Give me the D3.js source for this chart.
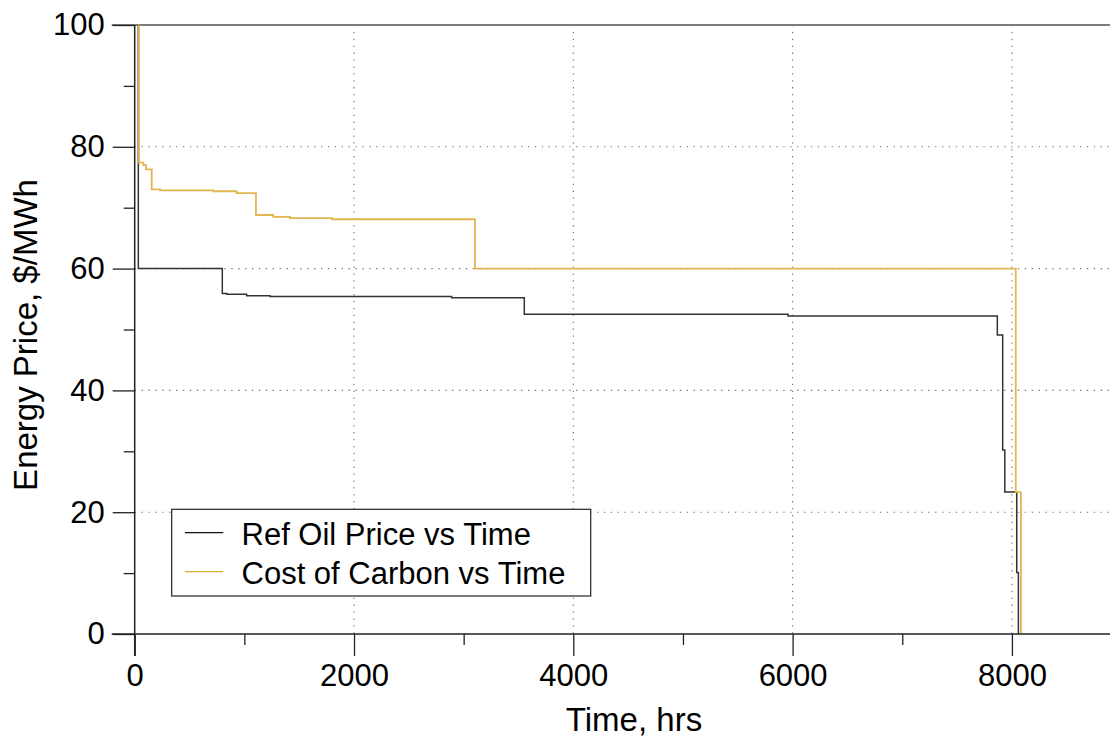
<!DOCTYPE html>
<html>
<head>
<meta charset="utf-8">
<script src="https://cdn.jsdelivr.net/npm/d3@7"></script>
<style>
  html, body { margin: 0; padding: 0; background: #fff; }
  svg { display: block; font-family: "Liberation Sans", Arial, Helvetica, sans-serif; }
</style>
</head>
<body>
<svg id="chart" width="1110" height="738"></svg>
<script>
// Price duration data: each point is [hour where the level starts, $/MWh level]
const oilHours  = [0, 33, 799, 839, 1021, 1234, 2891, 3553, 5958, 7867, 7916, 7935, 8044, 8059];
const oilPrice  = [130, 60.0, 55.9, 55.8, 55.55, 55.4, 55.2, 52.5, 52.2, 49.1, 30.2, 23.3, 10.1, 0];

const carbonHours = [0, 39, 79, 103, 155, 231, 717, 930, 1106, 1264, 1416, 1800, 3103, 8035, 8082];
const carbonPrice = [130, 77.4, 77.0, 76.3, 73.0, 72.85, 72.7, 72.4, 68.8, 68.5, 68.3, 68.1, 60.0, 23.3, 0];

const seriesNames = ["Ref Oil Price vs Time", "Cost of Carbon vs Time"];
const seriesColors = ["#333333", "#E2B650"];

const xMajorTicks = [0, 2000, 4000, 6000, 8000];
const xMinorTicks = [1000, 3000, 5000, 7000];
const yMajorTicks = [0, 20, 40, 60, 80, 100];
const yMinorTicks = [10, 30, 50, 70, 90];

const xTitle = "Time, hrs";
const yTitle = "Energy Price, $/MWh";

const svg = d3.select("#chart");
const W = 1110, H = 738;
const plotLeft = 134.7, plotTop = 25, plotBottom = 634;
const labelFont = 31, titleFont = 33;

const x = d3.scaleLinear().domain([0, 8900]).range([plotLeft, W + 0.6]);
const y = d3.scaleLinear().domain([0, 100]).range([plotBottom, plotTop]);

// clip region for the series
svg.append("defs").append("clipPath").attr("id", "plotClip")
  .append("rect").attr("x", plotLeft).attr("y", plotTop).attr("width", W - plotLeft).attr("height", plotBottom - plotTop);

// dotted grid
const grid = svg.append("g").attr("stroke", "#707070").attr("stroke-width", 1.1)
  .attr("stroke-dasharray", "1.3,5.6").attr("fill", "none");
xMajorTicks.filter(d => d > 0).forEach(d => {
  grid.append("line").attr("x1", x(d)).attr("x2", x(d)).attr("y1", y(100)).attr("y2", y(0));
});
yMajorTicks.filter(d => d > 0 && d < 100).forEach(d => {
  grid.append("line").attr("x1", x(0)).attr("x2", W).attr("y1", y(d)).attr("y2", y(d));
});

// top frame line
svg.append("line").attr("x1", plotLeft - 23).attr("x2", W).attr("y1", y(100)).attr("y2", y(100))
  .attr("stroke", "#7d7d7d").attr("stroke-width", 2);

// series
const line = d3.line().x(d => x(d[0])).y(d => y(d[1])).curve(d3.curveStepAfter);
const seriesData = [
  d3.zip(oilHours, oilPrice),
  d3.zip(carbonHours, carbonPrice)
];
const plot = svg.append("g").attr("clip-path", "url(#plotClip)");
seriesData.forEach((pts, i) => {
  plot.append("path").datum(pts)
    .attr("d", line)
    .attr("fill", "none")
    .attr("stroke", seriesColors[i])
    .attr("stroke-width", i === 0 ? 1.5 : 1.8);
});

// axes
const xAxis = d3.axisBottom(x).tickValues(xMajorTicks).tickSize(22).tickPadding(8)
  .tickFormat(d3.format("d"));
const gx = svg.append("g").attr("transform", `translate(0,${plotBottom})`).call(xAxis);
gx.select(".domain").remove();
gx.selectAll(".tick line").attr("stroke", "#222").attr("stroke-width", 1.3);
gx.selectAll(".tick text").attr("font-size", labelFont).attr("fill", "#000")
  .attr("font-family", "Liberation Sans, Arial, sans-serif");
svg.append("g").attr("transform", `translate(0,${plotBottom})`)
  .call(d3.axisBottom(x).tickValues(xMinorTicks).tickSize(11).tickFormat(""))
  .call(g => g.select(".domain").remove())
  .selectAll(".tick line").attr("stroke", "#222").attr("stroke-width", 1.3);

const yAxis = d3.axisLeft(y).tickValues(yMajorTicks).tickSize(22).tickPadding(8)
  .tickFormat(d3.format("d"));
const gy = svg.append("g").attr("transform", `translate(${plotLeft},0)`).call(yAxis);
gy.select(".domain").remove();
gy.selectAll(".tick line").attr("stroke", "#222").attr("stroke-width", 1.3);
gy.selectAll(".tick text").attr("font-size", labelFont).attr("fill", "#000")
  .attr("font-family", "Liberation Sans, Arial, sans-serif");
svg.append("g").attr("transform", `translate(${plotLeft},0)`)
  .call(d3.axisLeft(y).tickValues(yMinorTicks).tickSize(11).tickFormat(""))
  .call(g => g.select(".domain").remove())
  .selectAll(".tick line").attr("stroke", "#222").attr("stroke-width", 1.3);

// axis lines
svg.append("line").attr("x1", plotLeft - 23).attr("x2", W).attr("y1", plotBottom).attr("y2", plotBottom)
  .attr("stroke", "#222").attr("stroke-width", 1.5);
svg.append("line").attr("x1", plotLeft).attr("x2", plotLeft).attr("y1", plotTop).attr("y2", plotBottom + 22)
  .attr("stroke", "#222").attr("stroke-width", 1.5);

// axis titles
svg.append("text").attr("x", 634).attr("y", 731).attr("text-anchor", "middle")
  .attr("font-size", titleFont).attr("fill", "#000").text(xTitle);
svg.append("text").attr("transform", `translate(37,335) rotate(-90)`)
  .attr("text-anchor", "middle").attr("font-size", titleFont).attr("fill", "#000").text(yTitle);

// legend
const lg = svg.append("g");
lg.append("rect").attr("x", 171.7).attr("y", 509.3).attr("width", 419).attr("height", 86.7)
  .attr("fill", "#fff").attr("stroke", "#222").attr("stroke-width", 1.2);
seriesNames.forEach((name, i) => {
  const cy = 532.7 + i * 39;
  lg.append("line").attr("x1", 185).attr("x2", 223.3).attr("y1", cy).attr("y2", cy)
    .attr("stroke", i === 0 ? "#111" : "#D8B030").attr("stroke-width", 1.3);
  lg.append("text").attr("x", 241.5).attr("y", cy + 12).attr("font-size", labelFont)
    .attr("fill", "#000").text(name);
});
</script>
</body>
</html>
